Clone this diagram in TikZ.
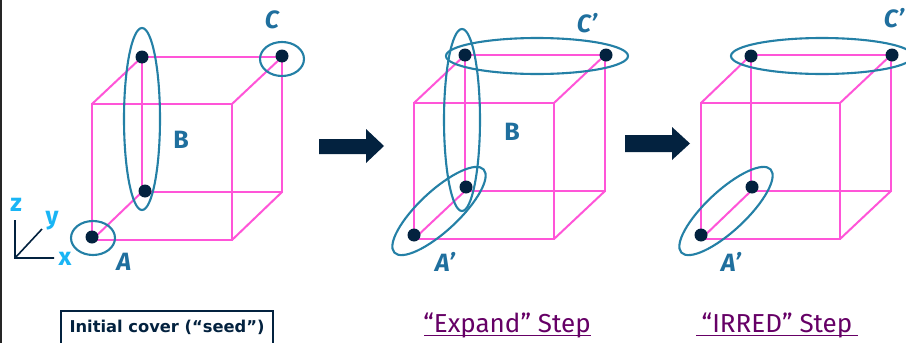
\documentclass[tikz,border=0pt]{standalone}
\usepackage{fontspec}
\setmainfont{Fira Sans}
\newfontfamily\capfont{DejaVu Sans}
\definecolor{cubepink}{HTML}{FF55D8}
\definecolor{ringblue}{HTML}{2480A6}
\definecolor{labelblue}{HTML}{1F6F9E}
\definecolor{navy}{HTML}{03223F}
\definecolor{axiscyan}{HTML}{19B5F5}
\definecolor{stepviolet}{HTML}{660066}
\tikzset{
  edgeline/.style={draw=cubepink,line width=2pt},
  ring/.style={draw=ringblue,line width=2.1pt,ellipse,inner sep=0pt,fill=none},
  dot/.style={circle,fill=navy,inner sep=0pt,minimum size=13pt},
  cornerlabel/.style={text=labelblue,font=\bfseries\itshape\fontsize{25}{25}\selectfont,inner sep=0pt},
  uprightlabel/.style={text=labelblue,font=\bfseries\fontsize{25}{25}\selectfont,inner sep=0pt},
  axislabel/.style={text=axiscyan,font=\bfseries\fontsize{25}{25}\selectfont,inner sep=0pt},
  axisline/.style={draw=navy,line width=1.6pt},
  stepcaption/.style={text=stepviolet,font=\fontsize{26}{26}\selectfont,inner sep=0pt,anchor=base},
  capline/.style={draw=stepviolet,line width=1.5pt},
  bigarrow/.style={fill=navy,draw=none},
}
\usetikzlibrary{shapes.geometric}
\begin{document}
\begin{tikzpicture}[x=1pt,y=-1pt]
\useasboundingbox (0,0) rectangle (906,343);
\fill[fill=white] (0,0) rectangle (906,343);
\fill[black!85] (0,0) rectangle (2,343);

% ---- cube 1
\coordinate (a1) at (92,104); \coordinate (b1) at (232,104);
\coordinate (c1) at (232,240); \coordinate (d1) at (92,240);
\coordinate (e1) at (142,57); \coordinate (f1) at (282,57);
\coordinate (g1) at (282,192); \coordinate (h1) at (142,192);
\draw[edgeline,line join=miter] (a1) -- (b1) -- (c1) -- (d1) -- cycle;
\draw[edgeline,line join=miter] (e1) -- (f1) -- (g1) -- (h1) -- cycle;
\draw[edgeline] (a1) -- (e1) (b1) -- (f1) (c1) -- (g1) (d1) -- (h1);
\node[ring,minimum width=36pt,minimum height=182pt] (ringB1) at (142,119) {};
\node[ring,minimum width=44pt,minimum height=34pt] (ringC1) at (282,59) {};
\node[ring,minimum width=44pt,minimum height=34pt] (ringA1) at (93,238) {};
\node[dot] (p1a) at (142,57) {};
\node[dot] (p1b) at (282,56) {};
\node[dot] (p1c) at (145,191) {};
\node[dot] (p1d) at (92,237) {};
\node[cornerlabel] (lC1) at (272,20) {C};
\node[uprightlabel] (lB1) at (181,140) {B};
\node[cornerlabel] (lA1) at (124,262) {A};

% ---- axes
\coordinate (o) at (15,258); \coordinate (zt) at (15,220);
\coordinate (xt) at (54,258); \coordinate (yt) at (42,229);
\draw[axisline] (zt) -- (o) -- (xt) (o) -- (yt);
\node[axislabel] (lz) at (16,205) {z};
\node[axislabel] (ly) at (52,221) {y};
\node[axislabel] (lx) at (65,259) {x};

% ---- caption 1
\node[draw=navy,line width=1.6pt,minimum width=212pt,minimum height=33pt,inner sep=0pt,
      font=\capfont\bfseries\fontsize{16.3}{16.3}\selectfont,text=navy] (seed) at (167,327.5) {Initial cover (“seed”)};

% ---- arrow 1
\fill[bigarrow] (319,139) -- (366,139) -- (366,129) -- (384,146) -- (366,163) -- (366,154) -- (319,154) -- cycle;

% ---- cube 2
\coordinate (a2) at (414,103); \coordinate (b2) at (554,103);
\coordinate (c2) at (554,239); \coordinate (d2) at (414,239);
\coordinate (e2) at (465,55); \coordinate (f2) at (605,55);
\coordinate (g2) at (605,191); \coordinate (h2) at (465,191);
\draw[edgeline,line join=miter] (a2) -- (b2) -- (c2) -- (d2) -- cycle;
\draw[edgeline,line join=miter] (e2) -- (f2) -- (g2) -- (h2) -- cycle;
\draw[edgeline] (a2) -- (e2) (b2) -- (f2) (c2) -- (g2) (d2) -- (h2);
\node[ring,minimum width=36pt,minimum height=182pt] (ringB2) at (462,120) {};
\node[ring,minimum width=182pt,minimum height=36pt] (ringC2) at (537,56) {};
\node[ring,minimum width=122pt,minimum height=40pt,rotate=43] (ringA2) at (439,211) {};
\node[dot] (p2a) at (465,55) {};
\node[dot] (p2b) at (606,55) {};
\node[dot] (p2c) at (466,187) {};
\node[dot] (p2d) at (414,235) {};
\node[cornerlabel] (lC2) at (587,23) {C’};
\node[uprightlabel] (lB2) at (512,132) {B};
\node[cornerlabel] (lA2) at (445,262) {A’};
\node[stepcaption] (cap2) at (507,332) {“Expand” Step};
\draw[capline] (424,335.5) -- (591,335.5);

% ---- arrow 2
\fill[bigarrow] (625,135) -- (672,135) -- (672,127) -- (690,143.5) -- (672,160) -- (672,152) -- (625,152) -- cycle;

% ---- cube 3
\coordinate (a3) at (701,103); \coordinate (b3) at (840,103);
\coordinate (c3) at (840,239); \coordinate (d3) at (701,239);
\coordinate (e3) at (751,55); \coordinate (f3) at (891,55);
\coordinate (g3) at (891,191); \coordinate (h3) at (751,191);
\draw[edgeline,line join=miter] (a3) -- (b3) -- (c3) -- (d3) -- cycle;
\draw[edgeline,line join=miter] (e3) -- (f3) -- (g3) -- (h3) -- cycle;
\draw[edgeline] (a3) -- (e3) (b3) -- (f3) (c3) -- (g3) (d3) -- (h3);
\begin{scope}
\clip (0,0) rectangle (906,343);
\node[ring,minimum width=182pt,minimum height=36pt] (ringC3) at (822,56) {};
\end{scope}
\node[ring,minimum width=122pt,minimum height=40pt,rotate=43] (ringA3) at (726,211) {};
\node[dot] (p3a) at (751,56) {};
\node[dot] (p3b) at (892,55) {};
\node[dot] (p3c) at (752,187) {};
\node[dot] (p3d) at (701,235) {};
\node[cornerlabel] (lC3) at (894,18) {C’};
\node[cornerlabel] (lA3) at (731,262) {A’};
\node[stepcaption] (cap3) at (777,332) {“IRRED” Step};
\draw[capline] (696,335.5) -- (858,335.5);
\end{tikzpicture}
\end{document}
